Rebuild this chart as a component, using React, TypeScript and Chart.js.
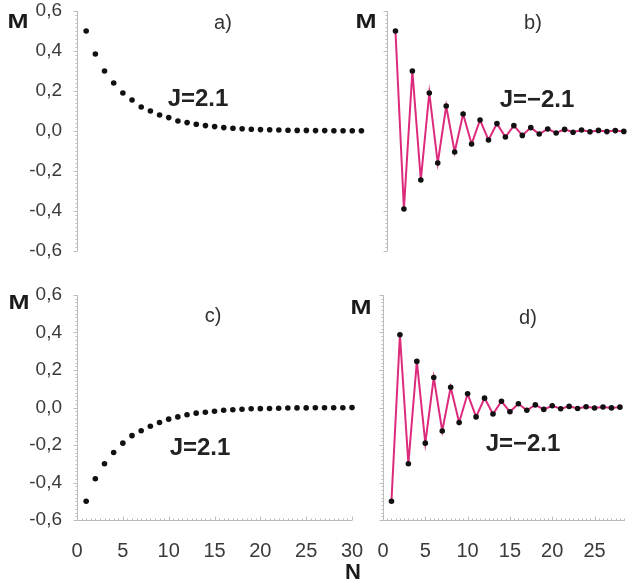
import React, { useEffect, useRef } from "react";
import { Chart, registerables } from "chart.js";

Chart.register(...registerables);

// ---------- data ----------
const N_A = [1, 2, 3, 4, 5, 6, 7, 8, 9, 10, 11, 12, 13, 14, 15, 16, 17, 18, 19, 20, 21, 22, 23, 24, 25, 26, 27, 28, 29, 30, 31];
const M_A = [0.5, 0.385, 0.3, 0.24, 0.19, 0.155, 0.12, 0.1, 0.08, 0.067, 0.05, 0.042, 0.034, 0.027, 0.022, 0.017, 0.014, 0.011, 0.009, 0.007, 0.006, 0.005, 0.004, 0.003, 0.003, 0.002, 0.002, 0.001, 0.001, 0.001, 0.001];

const N_B = [1, 2, 3, 4, 5, 6, 7, 8, 9, 10, 11, 12, 13, 14, 15, 16, 17, 18, 19, 20, 21, 22, 23, 24, 25, 26, 27, 28];
const M_B = [0.5, -0.39, 0.3, -0.245, 0.19, -0.16, 0.125, -0.105, 0.085, -0.065, 0.055, -0.045, 0.037, -0.03, 0.027, -0.022, 0.017, -0.015, 0.01, -0.01, 0.008, -0.006, 0.005, -0.004, 0.003, -0.003, 0.002, -0.002];

const N_C = [1, 2, 3, 4, 5, 6, 7, 8, 9, 10, 11, 12, 13, 14, 15, 16, 17, 18, 19, 20, 21, 22, 23, 24, 25, 26, 27, 28, 29, 30];
const M_C = [-0.5, -0.38, -0.3, -0.24, -0.19, -0.15, -0.124, -0.1, -0.08, -0.062, -0.05, -0.039, -0.03, -0.025, -0.02, -0.015, -0.012, -0.009, -0.007, -0.006, -0.005, -0.004, -0.003, -0.002, -0.002, -0.001, -0.001, -0.001, -0.001, -0.0005];

const N_D = [1, 2, 3, 4, 5, 6, 7, 8, 9, 10, 11, 12, 13, 14, 15, 16, 17, 18, 19, 20, 21, 22, 23, 24, 25, 26, 27, 28];
const M_D = [-0.5, 0.388, -0.3, 0.246, -0.19, 0.16, -0.125, 0.108, -0.08, 0.073, -0.05, 0.05, -0.035, 0.033, -0.023, 0.02, -0.015, 0.014, -0.01, 0.009, -0.007, 0.006, -0.005, 0.004, -0.003, 0.003, -0.002, 0.002];

const Y_TICKS = [-0.6, -0.4, -0.2, 0, 0.2, 0.4, 0.6];
const X_TICKS_C = [0, 5, 10, 15, 20, 25, 30];
const X_TICKS_D = [0, 5, 10, 15, 20, 25];

// ---------- styles ----------
const FONT = "'Liberation Sans', Arial, sans-serif";
const PINK = "#dc2a7c";
const AXIS_COLOR = "#bcbcbc";
const TICK_TEXT = "#3a3a3a";

const fmt = (v: number) => (Math.abs(v) < 1e-9 ? "0,0" : v.toFixed(1).replace(".", ","));

const axesPlugin = {
  id: "customAxes",
  beforeDatasetsDraw(chart: any, _args: any, opts: any) {
    const { ctx, chartArea, scales } = chart;
    const x = scales.x;
    const y = scales.y;
    ctx.save();
    ctx.strokeStyle = AXIS_COLOR;
    ctx.lineWidth = 1;
    const lx = Math.round(chartArea.left) + 0.5;
    const yTop = y.getPixelForValue(0.6);
    const yBot = y.getPixelForValue(-0.6);
    ctx.beginPath();
    ctx.moveTo(lx, yTop);
    ctx.lineTo(lx, yBot);
    ctx.stroke();
    for (let k = -30; k <= 30; k++) {
      const v = k * 0.02;
      const py = Math.round(y.getPixelForValue(v)) + 0.5;
      const major = k % 10 === 0;
      ctx.beginPath();
      ctx.moveTo(lx - (major ? 4 : 2), py);
      ctx.lineTo(lx, py);
      ctx.stroke();
    }
    if (opts.xAxis) {
      const by = Math.round(chartArea.bottom) + 0.5;
      const xStart = x.getPixelForValue(0);
      const xEnd = Math.min(chartArea.right, x.getPixelForValue(opts.xEnd));
      ctx.beginPath();
      ctx.moveTo(xStart, by);
      ctx.lineTo(xEnd, by);
      ctx.stroke();
      for (let k = 0; k <= opts.xEnd * 2; k++) {
        const v = k * 0.5;
        const px = Math.round(x.getPixelForValue(v)) + 0.5;
        if (px > chartArea.right + 1) break;
        const major = k % 10 === 0;
        ctx.beginPath();
        ctx.moveTo(px, by);
        ctx.lineTo(px, by - (major ? 4 : 2));
        ctx.stroke();
      }
    }
    ctx.restore();
  },
};

type PanelProps = {
  left: number;
  top: number;
  width: number;
  height: number;
  n: number[];
  m: number[];
  line: boolean;
  yLabels: boolean;
  yWidth: number;
  xMax: number;
  xTicks: number[] | null;
  xEnd: number;
  padding: { top: number; bottom: number; left: number; right: number };
};

function Panel(p: PanelProps) {
  const ref = useRef<HTMLCanvasElement>(null);
  useEffect(() => {
    if (!ref.current) return;
    const chart = new Chart(ref.current, {
      type: "scatter",
      data: {
        datasets: [
          {
            data: p.n.map((v, i) => ({ x: v, y: p.m[i] })),
            showLine: p.line,
            borderColor: PINK,
            borderWidth: 2,
            pointRadius: 2.8,
            pointBackgroundColor: "#111",
            pointBorderWidth: 0,
            clip: false as any,
          },
        ],
      },
      options: {
        responsive: false,
        maintainAspectRatio: false,
        animation: false,
        events: [],
        layout: { padding: p.padding },
        plugins: {
          legend: { display: false },
          tooltip: { enabled: false },
          customAxes: { xAxis: !!p.xTicks, xEnd: p.xEnd },
        } as any,
        scales: {
          x: {
            type: "linear",
            min: 0,
            max: p.xMax,
            display: !!p.xTicks,
            grid: { display: false, drawTicks: false },
            border: { display: false },
            ticks: {
              font: { family: FONT, size: 20 },
              color: TICK_TEXT,
              padding: 19,
              maxRotation: 0,
              autoSkip: false,
              callback: (v: any) => String(v),
            },
            afterBuildTicks: (s: any) => {
              if (p.xTicks) s.ticks = p.xTicks.map((v) => ({ value: v }));
            },
            afterFit: (s: any) => {
              s.height = p.xTicks ? 50 : 0;
              s.paddingLeft = 0;
              s.paddingRight = 0;
              s.paddingTop = 0;
              s.paddingBottom = 0;
            },
          },
          y: {
            type: "linear",
            min: -0.6,
            max: 0.6,
            grid: { display: false, drawTicks: false },
            border: { display: false },
            ticks: {
              display: p.yLabels,
              font: { family: FONT, size: 19 },
              color: TICK_TEXT,
              padding: 15,
              callback: (v: any) => fmt(Number(v)),
            },
            afterBuildTicks: (s: any) => {
              s.ticks = Y_TICKS.map((v) => ({ value: v }));
            },
            afterFit: (s: any) => {
              s.width = p.yWidth;
              s.paddingLeft = 0;
              s.paddingRight = 0;
              s.paddingTop = 0;
              s.paddingBottom = 0;
            },
          },
        },
      },
      plugins: [axesPlugin],
    });
    return () => chart.destroy();
  }, []);
  return (
    <canvas
      ref={ref}
      width={p.width}
      height={p.height}
      style={{ position: "absolute", left: p.left, top: p.top, width: p.width, height: p.height }}
    />
  );
}

const Label = ({ x, y, text, size, bold, sx = 1, color = "#2a2a2a" }: any) => (
  <span
    style={{
      position: "absolute",
      left: x,
      top: y,
      transform: `translate(-50%, -50%) scaleX(${sx})`,
      fontFamily: FONT,
      fontSize: size,
      fontWeight: bold ? 700 : 400,
      color,
      whiteSpace: "nowrap",
      lineHeight: 1,
    }}
  >
    {text}
  </span>
);

export default function App() {
  return (
    <div style={{ position: "absolute", left: 0, top: 0, width: 629, height: 584, background: "#fff", overflow: "hidden" }}>
      <Panel left={0} top={0} width={372} height={270} n={N_A} m={M_A} line={false} yLabels={true} yWidth={77}
        xMax={31.5} xTicks={null} xEnd={31.5} padding={{ top: 11, bottom: 19, left: 0, right: 6 }} />
      <Panel left={380} top={0} width={249} height={270} n={N_B} m={M_B} line={true} yLabels={false} yWidth={7}
        xMax={28.14} xTicks={null} xEnd={28.14} padding={{ top: 11, bottom: 19, left: 0, right: 0 }} />
      <Panel left={0} top={280} width={372} height={304} n={N_C} m={M_C} line={false} yLabels={true} yWidth={77}
        xMax={30} xTicks={X_TICKS_C} xEnd={30} padding={{ top: 15, bottom: 14, left: 0, right: 20 }} />
      <Panel left={376} top={280} width={253} height={304} n={N_D} m={M_D} line={true} yLabels={false} yWidth={7}
        xMax={28.6} xTicks={X_TICKS_D} xEnd={28.6} padding={{ top: 15, bottom: 14, left: 0, right: 0 }} />

      <Label x={18} y={20} text="M" size={21} bold sx={1.2} color="#1a1a1a" />
      <Label x={366} y={20} text="M" size={21} bold sx={1.2} color="#1a1a1a" />
      <Label x={19} y={301} text="M" size={21} bold sx={1.2} color="#1a1a1a" />
      <Label x={361} y={306} text="M" size={21} bold sx={1.2} color="#1a1a1a" />

      <Label x={223} y={22} text="a)" size={20} color="#333" />
      <Label x={533} y={22} text="b)" size={20} color="#333" />
      <Label x={213} y={315} text="c)" size={20} color="#333" />
      <Label x={528} y={317} text="d)" size={20} color="#333" />

      <Label x={198} y={98} text="J=2.1" size={24} bold color="#222" />
      <Label x={537} y={99} text="J=−2.1" size={24} bold color="#222" />
      <Label x={200} y={447} text="J=2.1" size={24} bold color="#222" />
      <Label x={523} y={443} text="J=−2.1" size={24} bold color="#222" />

      <Label x={353} y={572} text="N" size={22} bold color="#1a1a1a" />
    </div>
  );
}
